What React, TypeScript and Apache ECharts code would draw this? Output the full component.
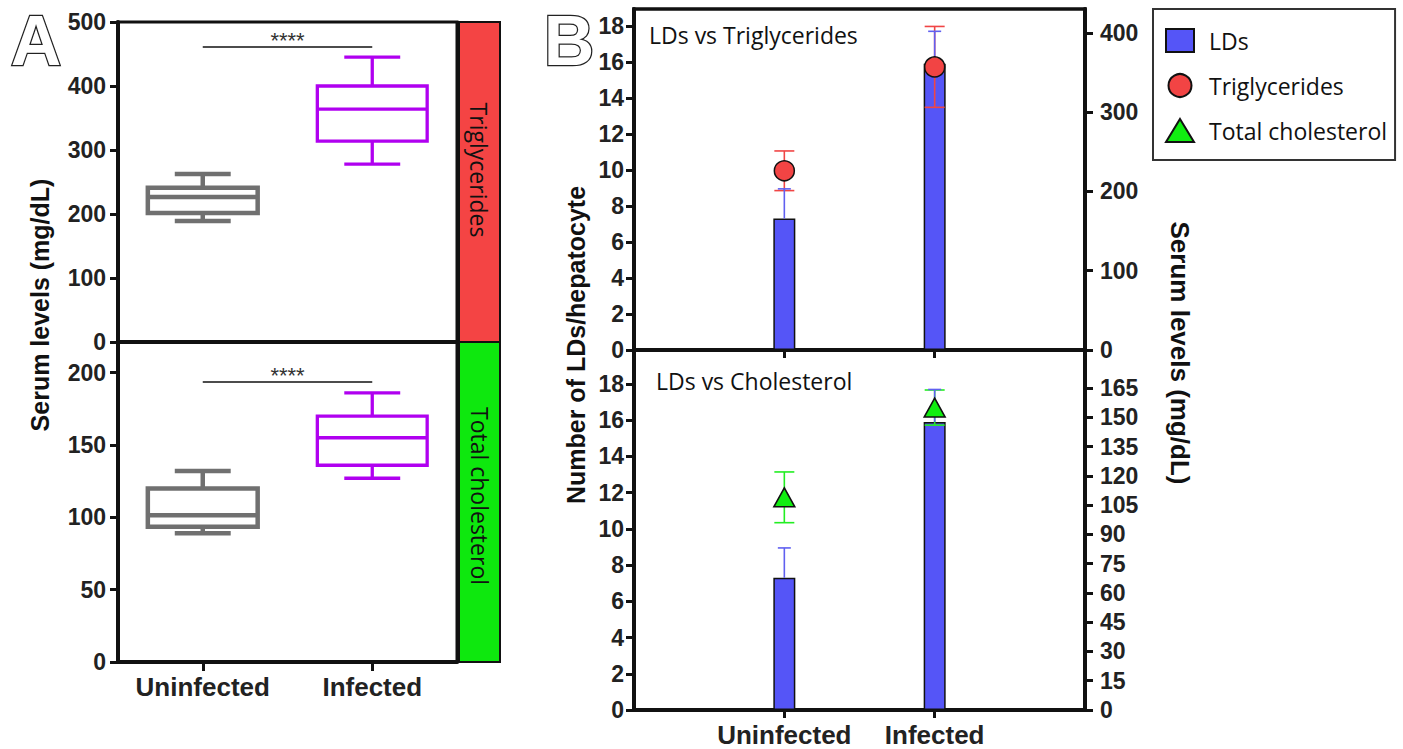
import React, { useEffect, useRef } from 'react';
import * as echarts from 'echarts';

// ---------------- Panel A: box plots ----------------
const categoriesA = ['Uninfected', 'Infected'];
// [min, Q1, median, Q3, max]
const triglyceridesBox = [
  [189, 201.5, 226.5, 241, 262.5],
  [278, 314, 364, 400, 445],
];
const cholesterolBox = [
  [89, 93.5, 101.5, 120, 132],
  [127, 136, 155, 170, 186],
];
const significance = '****';
const trigBracket = 461;
const cholBracket = 194;
const ticksTrigA = [0, 100, 200, 300, 400, 500];
const ticksCholA = [0, 50, 100, 150, 200];

// ---------------- Panel B: bars + serum levels ----------------
const categoriesB = ['Uninfected', 'Infected'];
const ldMean = [7.3, 15.9];
const ldErr = [1.65, 1.8];
const trigMean = [226, 357];
const trigErr = [25, 51];
const cholMean = [109, 155];
const cholErr = [13, 9];
const ticksLD = [0, 2, 4, 6, 8, 10, 12, 14, 16, 18];
const ticksTrigB = [0, 100, 200, 300, 400];
const ticksCholB = [0, 15, 30, 45, 60, 75, 90, 105, 120, 135, 150, 165];

// ---------------- styles ----------------
const BOLD = '"Liberation Sans", Arial, Helvetica, sans-serif';
const PLAIN = '"Open Sans", "Liberation Sans", sans-serif';
const INK = '#111';
const LABEL = '#222';
const boxColors = ['#707070', '#b000f0'];
const boxWidths = [4.5, 3.3];

function renderBox(params: any, api: any) {
  const i = api.value(0);
  const lo = api.value(1), q1 = api.value(2), med = api.value(3), q3 = api.value(4), hi = api.value(5);
  const band = api.size([1, 0])[0];
  const half = band * 0.324;
  const cap = band * 0.165;
  const cx = api.coord([i, lo])[0];
  const yLo = api.coord([i, lo])[1];
  const yQ1 = api.coord([i, q1])[1];
  const yMed = api.coord([i, med])[1];
  const yQ3 = api.coord([i, q3])[1];
  const yHi = api.coord([i, hi])[1];
  const style = { stroke: boxColors[i], lineWidth: boxWidths[i], fill: 'none' };
  return {
    type: 'group',
    children: [
      { type: 'rect', shape: { x: cx - half, y: yQ3, width: 2 * half, height: yQ1 - yQ3 }, style },
      { type: 'line', shape: { x1: cx - half, y1: yMed, x2: cx + half, y2: yMed }, style },
      { type: 'line', shape: { x1: cx, y1: yQ3, x2: cx, y2: yHi }, style },
      { type: 'line', shape: { x1: cx, y1: yQ1, x2: cx, y2: yLo }, style },
      { type: 'line', shape: { x1: cx - cap, y1: yHi, x2: cx + cap, y2: yHi }, style },
      { type: 'line', shape: { x1: cx - cap, y1: yLo, x2: cx + cap, y2: yLo }, style },
    ],
  };
}

function errRender(color: string, capHalf: number, lineWidth: number, lowerCap: boolean) {
  return (params: any, api: any) => {
    const x = api.value(0);
    const lo = api.value(1);
    const hi = api.value(2);
    const pLo = api.coord([x, lo]);
    const pHi = api.coord([x, hi]);
    const style = { stroke: color, lineWidth, fill: 'none' };
    const children: any[] = [
      { type: 'line', shape: { x1: pLo[0], y1: pLo[1], x2: pHi[0], y2: pHi[1] }, style },
      { type: 'line', shape: { x1: pHi[0] - capHalf, y1: pHi[1], x2: pHi[0] + capHalf, y2: pHi[1] }, style },
    ];
    if (lowerCap) {
      children.push({ type: 'line', shape: { x1: pLo[0] - capHalf, y1: pLo[1], x2: pLo[0] + capHalf, y2: pLo[1] }, style });
    }
    return { type: 'group', children };
  };
}

const tickLabel = { fontSize: 23, fontWeight: 'bold', fontFamily: BOLD, color: LABEL };

function yAxis(gridIndex: number, max: number, ticks: number[], position: string, margin: number) {
  return {
    type: 'value',
    gridIndex,
    min: 0,
    max,
    position,
    splitLine: { show: false },
    axisLine: { show: true, onZero: false, lineStyle: { color: INK, width: 4 } },
    axisTick: { show: true, length: 8, customValues: ticks, lineStyle: { color: INK, width: 3 } },
    axisLabel: { ...tickLabel, customValues: ticks, margin },
  };
}

function sigMark(y: number) {
  return {
    silent: true,
    symbol: ['none', 'none'],
    lineStyle: { color: INK, width: 1.5, type: 'solid' },
    label: { show: true, position: 'middle', formatter: significance, fontSize: 22, fontFamily: BOLD, color: '#333', distance: 0, offset: [0, 5] },
    data: [[{ coord: [categoriesA[0], y] }, { coord: [categoriesA[1], y] }]],
  };
}

function buildOption() {
  const xB = (gridIndex: number, labels: boolean) => ({
    type: 'value',
    gridIndex,
    min: -1,
    max: 2,
    splitLine: { show: false },
    axisLine: { show: true, onZero: false, lineStyle: { color: INK, width: 4 } },
    axisTick: { show: true, length: 8, customValues: [0, 1], lineStyle: { color: INK, width: 3 } },
    axisLabel: labels
      ? {
          customValues: [0, 1],
          formatter: (v: number) => categoriesB[Math.round(v)] ?? '',
          margin: 12,
          fontSize: 26,
          fontWeight: 'bold',
          fontFamily: BOLD,
          color: LABEL,
        }
      : { show: false },
  });

  const letterStyle = {
    fontSize: 70, fontWeight: 'bold', fontFamily: BOLD, fill: '#fff', stroke: '#222', lineWidth: 2.5,
    align: 'center', verticalAlign: 'middle', textAlign: 'center', textVerticalAlign: 'middle',
  };
  const centered = { align: 'center', verticalAlign: 'middle', textAlign: 'center', textVerticalAlign: 'middle' };
  const leftMid = { align: 'left', verticalAlign: 'middle', textAlign: 'left', textVerticalAlign: 'middle' };

  return {
    animation: false,
    backgroundColor: '#fff',
    grid: [
      { left: 118, top: 22, width: 339, height: 320, show: true, borderColor: INK, borderWidth: 3 },
      { left: 118, top: 342, width: 339, height: 320, show: true, borderColor: INK, borderWidth: 3 },
      { left: 634, top: 9, width: 451, height: 341, show: true, borderColor: INK, borderWidth: 3.5 },
      { left: 634, top: 350, width: 451, height: 360, show: true, borderColor: INK, borderWidth: 3.5 },
    ],
    xAxis: [
      {
        type: 'category', gridIndex: 0, data: categoriesA,
        axisLine: { onZero: false, lineStyle: { color: INK, width: 4 } },
        axisTick: { show: false }, axisLabel: { show: false }, splitLine: { show: false },
      },
      {
        type: 'category', gridIndex: 1, data: categoriesA,
        axisLine: { onZero: false, lineStyle: { color: INK, width: 4 } },
        axisTick: { show: true, interval: 0, alignWithLabel: true, length: 9, lineStyle: { color: INK, width: 3 } },
        axisLabel: { interval: 0, margin: 12, fontSize: 26, fontWeight: 'bold', fontFamily: BOLD, color: LABEL },
        splitLine: { show: false },
      },
      xB(2, false),
      xB(3, true),
    ],
    yAxis: [
      yAxis(0, 500, ticksTrigA, 'left', 12),
      yAxis(1, 221.2, ticksCholA, 'left', 12),
      yAxis(2, 18.94, ticksLD, 'left', 10),
      yAxis(2, 430, ticksTrigB, 'right', 15),
      yAxis(3, 19.88, ticksLD, 'left', 10),
      yAxis(3, 184.5, ticksCholB, 'right', 15),
    ],
    legend: {
      orient: 'vertical',
      left: 1153,
      top: 9,
      padding: [19, 8, 17, 12],
      itemGap: 20,
      itemWidth: 28,
      itemHeight: 23,
      borderColor: '#333',
      borderWidth: 2,
      textStyle: { fontFamily: PLAIN, fontSize: 23, color: '#111', padding: [0, 0, 0, 10] },
      data: [
        { name: 'LDs', icon: 'rect' },
        { name: 'Triglycerides', icon: 'circle' },
        { name: 'Total cholesterol', icon: 'triangle' },
      ],
    },
    series: [
      {
        type: 'custom', name: 'Triglycerides (A)', xAxisIndex: 0, yAxisIndex: 0,
        data: triglyceridesBox.map((b, i) => [i, ...b]),
        encode: { x: 0, y: [1, 2, 3, 4, 5] },
        renderItem: renderBox,
        markLine: sigMark(trigBracket),
      },
      {
        type: 'custom', name: 'Total cholesterol (A)', xAxisIndex: 1, yAxisIndex: 1,
        data: cholesterolBox.map((b, i) => [i, ...b]),
        encode: { x: 0, y: [1, 2, 3, 4, 5] },
        renderItem: renderBox,
        markLine: sigMark(cholBracket),
      },
      // ---- B top ----
      {
        type: 'bar', name: 'LDs', xAxisIndex: 2, yAxisIndex: 2, barWidth: 22,
        data: ldMean.map((m, i) => [i, m]),
        itemStyle: { color: '#5555f7', borderColor: INK, borderWidth: 1.5 },
        z: 2,
      },
      {
        type: 'custom', name: 'TG error', xAxisIndex: 2, yAxisIndex: 3, z: 3,
        data: trigMean.map((m, i) => [i, m - trigErr[i], m + trigErr[i]]),
        encode: { x: 0, y: [1, 2] },
        renderItem: errRender('#f04545', 10, 1.6, true),
      },
      {
        type: 'custom', name: 'LD error top', xAxisIndex: 2, yAxisIndex: 2, z: 3,
        data: ldMean.map((m, i) => [i, m, m + ldErr[i]]),
        encode: { x: 0, y: [1, 2] },
        renderItem: errRender('#6060f0', 6.5, 1.6, false),
      },
      {
        type: 'scatter', name: 'Triglycerides', xAxisIndex: 2, yAxisIndex: 3, z: 4,
        symbol: 'circle', symbolSize: 20,
        data: trigMean.map((m, i) => [i, m]),
        itemStyle: { color: '#f24444', borderColor: INK, borderWidth: 1.5, opacity: 1 },
      },
      // ---- B bottom ----
      {
        type: 'bar', name: 'LDs', xAxisIndex: 3, yAxisIndex: 4, barWidth: 22,
        data: ldMean.map((m, i) => [i, m]),
        itemStyle: { color: '#5555f7', borderColor: INK, borderWidth: 1.5 },
        z: 2,
      },
      {
        type: 'custom', name: 'TC error', xAxisIndex: 3, yAxisIndex: 5, z: 3,
        data: cholMean.map((m, i) => [i, m - cholErr[i], m + cholErr[i]]),
        encode: { x: 0, y: [1, 2] },
        renderItem: errRender('#22ee22', 10, 1.6, true),
      },
      {
        type: 'custom', name: 'LD error bottom', xAxisIndex: 3, yAxisIndex: 4, z: 3,
        data: ldMean.map((m, i) => [i, m, m + ldErr[i]]),
        encode: { x: 0, y: [1, 2] },
        renderItem: errRender('#6060f0', 6.5, 1.6, false),
      },
      {
        type: 'scatter', name: 'Total cholesterol', xAxisIndex: 3, yAxisIndex: 5, z: 4,
        symbol: 'triangle', symbolSize: [21, 19],
        data: cholMean.map((m, i) => [i, m]),
        itemStyle: { color: '#11ee11', borderColor: INK, borderWidth: 1.5, opacity: 1 },
      },
    ],
    graphic: [
      // coloured side strips of panel A
      { type: 'rect', shape: { x: 459, y: 22, width: 41, height: 320 }, style: { fill: '#f44444', stroke: INK, lineWidth: 2 } },
      { type: 'rect', shape: { x: 459, y: 342, width: 41, height: 320 }, style: { fill: '#0ee80e', stroke: INK, lineWidth: 2 } },
      {
        type: 'text', x: 479, y: 170, rotation: -Math.PI / 2,
        style: { text: 'Triglycerides', fontSize: 23, fontFamily: PLAIN, fill: '#111', ...centered },
      },
      {
        type: 'text', x: 480, y: 496, rotation: -Math.PI / 2,
        style: { text: 'Total cholesterol', fontSize: 23, fontFamily: PLAIN, fill: '#111', ...centered },
      },
      // panel letters
      { type: 'text', x: 36, y: 41, style: { text: 'A', ...letterStyle } },
      { type: 'text', x: 569, y: 41, style: { text: 'B', ...letterStyle } },
      // axis titles
      {
        type: 'text', x: 40, y: 305, rotation: Math.PI / 2,
        style: { text: 'Serum levels (mg/dL)', fontSize: 25, fontWeight: 'bold', fontFamily: BOLD, fill: '#111', ...centered },
      },
      {
        type: 'text', x: 576, y: 345, rotation: Math.PI / 2,
        style: { text: 'Number of LDs/hepatocyte', fontSize: 25, fontWeight: 'bold', fontFamily: BOLD, fill: '#111', ...centered },
      },
      {
        type: 'text', x: 1180, y: 353, rotation: -Math.PI / 2,
        style: { text: 'Serum levels (mg/dL)', fontSize: 26, fontWeight: 'bold', fontFamily: BOLD, fill: '#111', ...centered },
      },
      // panel captions
      {
        type: 'text', x: 649, y: 35,
        style: { text: 'LDs vs Triglycerides', fontSize: 23, fontFamily: PLAIN, fill: '#111', ...leftMid },
      },
      {
        type: 'text', x: 656, y: 381,
        style: { text: 'LDs vs Cholesterol', fontSize: 23, fontFamily: PLAIN, fill: '#111', ...leftMid },
      },
    ],
  };
}

export default function App() {
  const ref = useRef<HTMLDivElement>(null);
  useEffect(() => {
    if (!ref.current) return;
    const chart = echarts.init(ref.current, undefined, { renderer: 'svg' });
    chart.setOption(buildOption() as any);
    return () => chart.dispose();
  }, []);
  return (
    <div
      ref={ref}
      style={{ position: 'absolute', left: 0, top: 0, width: 1403, height: 749, background: '#fff' }}
    />
  );
}
